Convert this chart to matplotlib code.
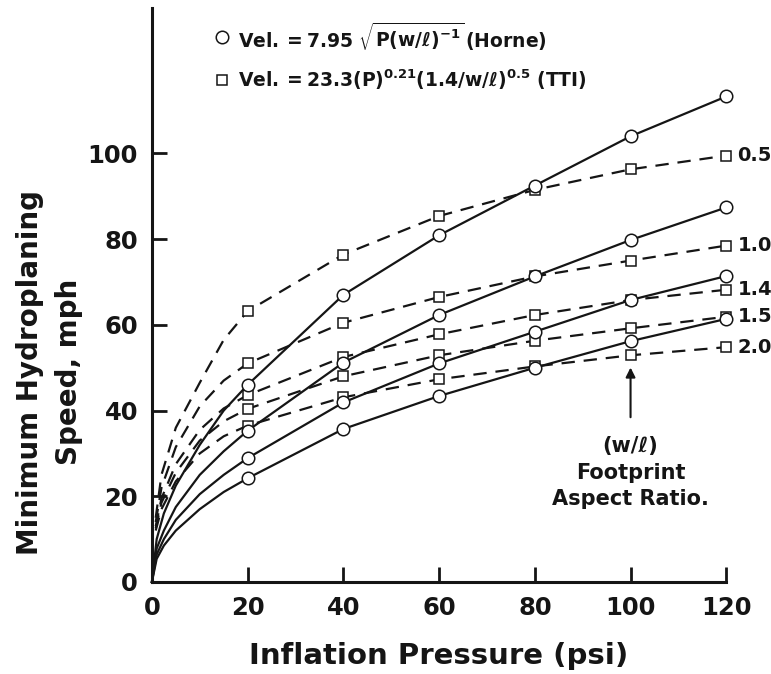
import numpy as np
import matplotlib
matplotlib.use("Agg")
import matplotlib.pyplot as plt

plt.rcParams["font.family"] = ["DejaVu Sans"]
plt.rcParams["font.weight"] = "bold"
plt.rcParams["mathtext.fontset"] = "custom"
plt.rcParams["mathtext.rm"] = "DejaVu Sans:bold"
plt.rcParams["mathtext.bf"] = "DejaVu Sans:bold"
plt.rcParams["mathtext.it"] = "DejaVu Sans:bold"

INK = "#151515"

# Horne curves (solid, circles)
horne_x = [0, 1, 2.5, 5, 10, 15, 20, 40, 60, 80, 100, 120]
horne = [
    [0, 10.0, 16.0, 22.5, 32.0, 40.0, 46.0, 67.0, 80.9, 92.5, 104.0, 113.3],
    [0, 7.8, 12.0, 17.5, 25.0, 30.5, 35.3, 51.2, 62.3, 71.3, 79.8, 87.4],
    [0, 6.4, 10.0, 14.5, 20.5, 25.0, 28.9, 41.9, 51.0, 58.4, 65.8, 71.4],
    [0, 5.4, 8.5, 12.0, 17.0, 21.0, 24.2, 35.7, 43.4, 50.0, 56.2, 61.4],
]

# TTI curves (dashed, squares)
tti_x = [0.8, 2, 5, 10, 15, 20, 40, 60, 80, 100, 120]
tti_labels = ["0.5", "1.0", "1.4", "1.5", "2.0"]
tti = [
    [15.0, 25.0, 36.0, 46.5, 56.5, 63.2, 76.4, 85.4, 91.5, 96.3, 99.5],
    [14.0, 22.0, 31.5, 41.0, 47.0, 51.0, 60.5, 66.5, 71.3, 75.0, 78.5],
    [13.0, 19.5, 27.5, 35.5, 40.5, 43.6, 52.5, 57.8, 62.3, 65.8, 68.2],
    [12.5, 18.5, 25.5, 33.0, 37.5, 40.4, 48.0, 52.9, 56.3, 59.2, 61.9],
    [12.0, 17.0, 23.5, 30.0, 34.0, 36.5, 43.1, 47.3, 50.3, 52.9, 54.8],
]

fig = plt.figure(figsize=(7.71, 6.74), dpi=100)
ax = fig.add_axes([0.197, 0.1365, 0.745, 0.852])

for ys in tti:
    ax.plot(tti_x, ys, color=INK, lw=1.6, dashes=(6, 4), marker="s", ms=7.5,
            mfc="white", mec=INK, mew=1.1, markevery=list(range(5, len(tti_x))),
            clip_on=False, zorder=3)

for ys in horne:
    ax.plot(horne_x, ys, color=INK, lw=1.6, marker="o", ms=9,
            mfc="white", mec=INK, mew=1.1, markevery=list(range(6, len(horne_x))),
            clip_on=False, zorder=4)

for lab, ys in zip(tti_labels, tti):
    ax.annotate(lab, xy=(tti_x[-1], ys[-1]), xytext=(8, 0), textcoords="offset points",
                ha="left", va="center", fontsize=14, fontweight="bold", color=INK)

ax.annotate("", xy=(100, 50.7), xytext=(100, 37.8),
            arrowprops=dict(arrowstyle="-|>", color=INK, lw=1.5, mutation_scale=14))
ax.text(100, 34.0, "(w/ℓ)\nFootprint\nAspect Ratio.", ha="center", va="top",
        fontsize=15, fontweight="bold", color=INK, linespacing=1.4)

# legend written as text with marker glyphs
ax.plot([0.122], [0.9495], transform=ax.transAxes, marker="o", ms=9, mfc="white",
        mec=INK, mew=1.1, clip_on=False)
ax.plot([0.122], [0.8746], transform=ax.transAxes, marker="s", ms=7.5, mfc="white",
        mec=INK, mew=1.1, clip_on=False)
ax.text(0.150, 0.9495, r"$\mathrm{Vel.}=\mathrm{7.95}\ \sqrt{\mathrm{P(w/ℓ)^{-1}}}\,\mathrm{(Horne)}$",
        transform=ax.transAxes, ha="left", va="center", fontsize=13.5, color=INK)
ax.text(0.150, 0.8746, r"$\mathrm{Vel.}=\mathrm{23.3(P)^{0.21}(1.4/w/ℓ)^{0.5}\ (TTI)}$",
        transform=ax.transAxes, ha="left", va="center", fontsize=13.5, color=INK)

ax.set_xlim(0, 120)
ax.set_ylim(0, 134)
ax.set_xticks([0, 20, 40, 60, 80, 100, 120])
ax.set_yticks([0, 20, 40, 60, 80, 100])
ax.spines["top"].set_visible(False)
ax.spines["right"].set_visible(False)
for s in ("left", "bottom"):
    ax.spines[s].set_linewidth(2.2)
    ax.spines[s].set_color(INK)
ax.tick_params(direction="in", length=11, width=2, color=INK, labelsize=17.5,
               labelcolor=INK, pad=10)
for t in ax.get_xticklabels() + ax.get_yticklabels():
    t.set_fontweight("bold")

ax.set_xlabel("Inflation Pressure (psi)", fontsize=21, fontweight="bold", color=INK, labelpad=16)
fig.text(0.0636, 0.448, "Minimum Hydroplaning\nSpeed, mph", rotation=90, ha="center",
         va="center", multialignment="center", fontsize=20, fontweight="bold", color=INK,
         linespacing=1.5)

fig.savefig("out.png", dpi=100)
